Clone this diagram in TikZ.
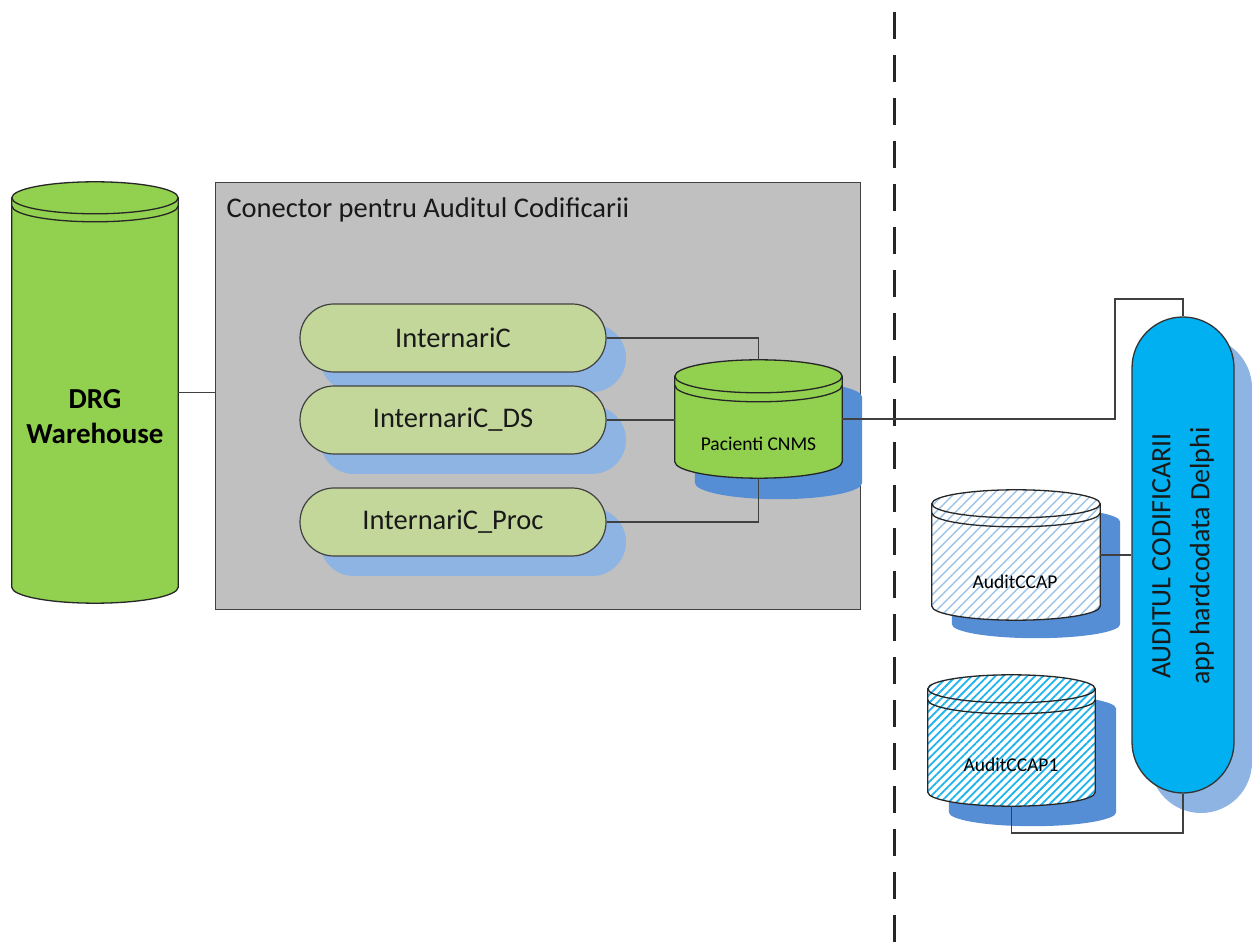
\documentclass[tikz,border=0pt]{standalone}
\usepackage{fontspec}
\setmainfont{Carlito}
\usetikzlibrary{calc,patterns.meta}

\definecolor{drggreen}{HTML}{92D050}
\definecolor{sagegreen}{HTML}{C4D79B}
\definecolor{paleblue}{HTML}{8DB4E2}
\definecolor{midblue}{HTML}{558ED5}
\definecolor{panelgray}{HTML}{C0C0C0}
\definecolor{appcyan}{HTML}{00B0F0}
\definecolor{wire}{HTML}{404040}
\definecolor{hatchpale}{HTML}{9DC3E6}
\definecolor{hatchcyan}{HTML}{1FB4EC}

% body of a database cylinder spanning a holder node:
% #1 node, #2 rim radius, #3 offset (x,y), #4 path options
\newcommand{\dbbody}[4]{%
  \path[#4] let \p1=($(#1.north west)+(#3)$), \p2=($(#1.south east)+(#3)$), \n1={(\x2-\x1)/2} in
    (\x1,\y1-#2pt) -- (\x1,\y2+#2pt)
    arc[start angle=180,end angle=360,x radius=\n1,y radius=#2pt]
    -- (\x2,\y1-#2pt)
    arc[start angle=0,end angle=180,x radius=\n1,y radius=#2pt] -- cycle;}
% front arc of the lid: #1 node, #2 rim radius, #3 drop below the lid centre
\newcommand{\dbrim}[3]{%
  \draw[dbline] let \p1=(#1.north west), \p2=(#1.south east), \n1={(\x2-\x1)/2} in
    (\x1,\y1-#2pt-#3pt) arc[start angle=180,end angle=360,x radius=\n1,y radius=#2pt];}

\begin{document}
\begin{tikzpicture}[x=1pt,y=1pt,
  wire/.style={draw=wire,line width=1.4pt},
  dbline/.style={draw=black!85,line width=1.3pt},
  pillsize/.style={rounded corners=34pt,minimum width=306pt,minimum height=68pt,inner sep=0pt},
  pill/.style={pillsize,draw=black!75,line width=1.2pt,fill=sagegreen,
    font=\fontsize{28.5}{32}\selectfont,text=black!90},
  pillshadow/.style={pillsize,fill=paleblue,draw=none},
  dbhold/.style={draw=none,inner sep=0pt},
  dblabel/.style={font=\fontsize{19.5}{22}\selectfont,text=black},
  appsize/.style={rounded corners=51pt,minimum width=102pt,minimum height=476pt,inner sep=0pt}
]
\useasboundingbox (0,0) rectangle (1252,943);

% vertical divider
\coordinate (divtop) at (894,931);
\coordinate (divbot) at (894,0);
\draw[line width=3pt,black!85,dash pattern=on 27pt off 16pt] (divtop) -- (divbot);

% connector panel
\node[draw=wire,fill=panelgray,line width=1.4pt,minimum width=645pt,minimum height=427pt,
  inner sep=0pt,anchor=north west] (panel) at (215,761) {};
\node[anchor=base west,font=\fontsize{28.5}{32}\selectfont,text=black!90] (paneltitle) at (223,725)
  {Conector pentru Auditul Codificarii};

% holders of the database cylinders
\node[dbhold,minimum width=166pt,minimum height=421pt] (drg) at (95,550.5) {};
\node[dbhold,minimum width=167pt,minimum height=118pt] (pac) at (758.5,524) {};
\node[dbhold,minimum width=168pt,minimum height=130pt] (ccap) at (1016,388) {};
\node[dbhold,minimum width=167pt,minimum height=131pt] (ccap1) at (1011.5,202.5) {};

% query pills
\node[pillshadow] (intcS) at (473,585) {};
\node[pillshadow] (intdsS) at (473,503) {};
\node[pillshadow] (intpS) at (473,401) {};
\node[pill] (intc) at (453,605) {InternariC};
\node[pill] (intds) at (453,523) {InternariC\_DS};
\node[pill] (intp) at (453,421) {InternariC\_Proc};

% DRG Warehouse
\dbbody{drg}{16}{0,0}{fill=drggreen,dbline}
\dbrim{drg}{16}{0}
\dbrim{drg}{16}{8}
\node[font=\bfseries\fontsize{29}{35}\selectfont,align=center,text=black] (drgtext) at (95,526)
  {DRG\\Warehouse};

% Pacienti CNMS
\dbbody{pac}{16.5}{20,-21}{fill=midblue}
\dbbody{pac}{16.5}{0,0}{fill=drggreen,dbline}
\dbrim{pac}{16.5}{0}
\dbrim{pac}{16.5}{9}
\node[dblabel] (pactext) at (758.5,499) {Pacienti CNMS};

% AuditCCAP
\dbbody{ccap}{14}{20,-18}{fill=midblue}
\dbbody{ccap}{14}{0,0}{preaction={fill=white},pattern={Lines[angle=45,distance=7pt,line width=1.4pt]},
  pattern color=hatchpale,dbline}
\dbrim{ccap}{14}{0}
\dbrim{ccap}{14}{9}
\node[dblabel] (ccaptext) at (1015,361) {AuditCCAP};

% AuditCCAP1
\dbbody{ccap1}{14}{21,-20}{fill=midblue}
\dbbody{ccap1}{14}{0,0}{preaction={fill=white},pattern={Lines[angle=45,distance=5.6pt,line width=1.8pt]},
  pattern color=hatchcyan,dbline}
\dbrim{ccap1}{14}{0}
\dbrim{ccap1}{14}{11}
\node[dblabel] (ccap1text) at (1011,178) {AuditCCAP1};

% audit application
\node[appsize,fill=paleblue] (appS) at (1201,368) {};
\node[appsize,fill=appcyan,draw=black!80,line width=1.3pt] (app) at (1183,388) {};
\node[rotate=90,align=center,font=\fontsize{28}{39}\selectfont,text=black!90] (apptext) at (1183,387)
  {AUDITUL CODIFICARII\\app hardcodata Delphi};

% connectors
\coordinate (bend1) at (1115,644);
\coordinate (bend2) at (1183,110);
\draw[wire] (drg.east) -- (drg.east -| panel.west);
\draw[wire] (intc.east) -| (pac.north);
\draw[wire] (intds.east) -- (intds.east -| pac.west);
\draw[wire] (intp.east) -| (pac.south);
\draw[wire] (pac.east) -| (bend1) -| (app.north);
\draw[wire] (ccap.east) -- (ccap.east -| app.west);
\draw[wire] (ccap1.south) |- (bend2) -- (app.south);
\end{tikzpicture}
\end{document}
